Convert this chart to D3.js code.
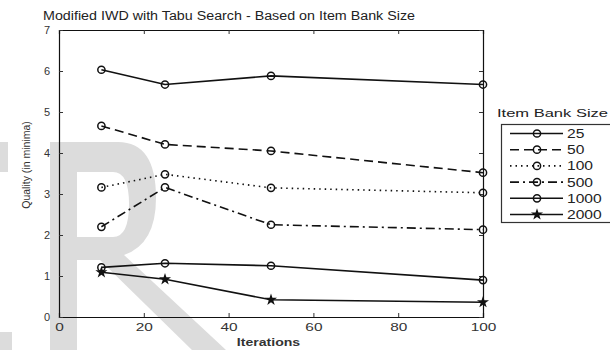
<!DOCTYPE html>
<meta charset="utf-8">
<style>
body { margin: 0; background: #fff; }
svg { font-family: "Liberation Sans", Arial, sans-serif; }
.tick text { fill: #333; font-size: 11px; }
.series { fill: none; stroke: #111; stroke-width: 1.6px; }
</style>
<svg width="610" height="350"></svg>
<script src="https://d3js.org/d3.v7.min.js"></script>
<script>

const iterations = [10, 25, 50, 100];
const bankSizes = ['25', '50', '100', '500', '1000', '2000'];
const q25 = [6.03, 5.67, 5.88, 5.67];
const q50 = [4.66, 4.21, 4.05, 3.52];
const q100 = [3.16, 3.48, 3.15, 3.03];
const q500 = [2.2, 3.16, 2.25, 2.13];
const q1000 = [1.21, 1.31, 1.25, 0.9];
const q2000 = [1.09, 0.92, 0.42, 0.36];
const xTicks = [0, 20, 40, 60, 80, 100];
const yTicks = [0, 1, 2, 3, 4, 5, 6, 7];

const series = [
  { name: bankSizes[0], values: q25, dash: null, marker: 'circle' },
  { name: bankSizes[1], values: q50, dash: '9,5', marker: 'circle' },
  { name: bankSizes[2], values: q100, dash: '1.5,4', marker: 'circle' },
  { name: bankSizes[3], values: q500, dash: '9,4,2,4', marker: 'circle' },
  { name: bankSizes[4], values: q1000, dash: null, marker: 'circle' },
  { name: bankSizes[5], values: q2000, dash: null, marker: 'star' }
];

const svg = d3.select('svg');

// the scanned figure is stretched sideways, so widen the text to match
function stretch(sel, f) {
  sel.each(function () {
    const w = this.getComputedTextLength();
    d3.select(this).attr('textLength', w * f).attr('lengthAdjust', 'spacingAndGlyphs');
  });
}

// watermark behind the chart
const wm = svg.append('g').attr('fill', '#dcdcdc');
wm.append('path')
  .attr('fill-rule', 'evenodd')
  .attr('d', 'M50,142 H118 Q156,142 156,198 Q156,244 124,255 L226,350 H192 L100,260 H77 V350 H50 Z' +
             'M77,172 H113 Q129,172 129,204 Q129,237 113,237 H77 Z');
wm.append('rect').attr('x', 0).attr('y', 142).attr('width', 8).attr('height', 30);
wm.append('rect').attr('x', 0).attr('y', 332).attr('width', 12).attr('height', 18);

const plotL = 59, plotR = 483, plotT = 30, plotB = 317;

const x = d3.scaleLinear().domain([0, 100]).range([plotL, plotR]);
const y = d3.scaleLinear().domain([0, 7]).range([plotB, plotT]);

const xAxis = svg.append('g')
  .attr('transform', `translate(0,${plotB})`)
  .call(d3.axisBottom(x).tickValues(xTicks).tickSize(-4).tickPadding(6));
svg.append('g')
  .attr('transform', `translate(0,${plotT})`)
  .call(d3.axisTop(x).tickValues(xTicks).tickSize(-4).tickFormat(''));
svg.append('g')
  .attr('transform', `translate(${plotL},0)`)
  .call(d3.axisLeft(y).tickValues(yTicks).tickSize(-4).tickPadding(9).tickFormat(d3.format('d')));
svg.append('g')
  .attr('transform', `translate(${plotR},0)`)
  .call(d3.axisRight(y).tickValues(yTicks).tickSize(-4).tickFormat(''));

stretch(xAxis.selectAll('text'), 1.4);

svg.selectAll('.domain').attr('stroke', '#111').attr('stroke-width', 1.2);
svg.selectAll('.tick line').attr('stroke', '#333');

const line = d3.line()
  .x((d, i) => x(iterations[i]))
  .y(d => y(d));

const star = d3.symbol().type(d3.symbolStar).size(45);

function drawMarker(g, type, cx, cy) {
  if (type === 'star') {
    g.append('path')
      .attr('d', star)
      .attr('transform', `translate(${cx},${cy})`)
      .attr('fill', '#111');
  } else {
    g.append('circle')
      .attr('cx', cx).attr('cy', cy).attr('r', 3.6)
      .attr('fill', 'none').attr('stroke', '#111').attr('stroke-width', 1.5);
  }
}

series.forEach(s => {
  const g = svg.append('g');
  g.append('path')
    .attr('class', 'series')
    .attr('d', line(s.values))
    .attr('stroke-dasharray', s.dash);
  s.values.forEach((v, i) => drawMarker(g, s.marker, x(iterations[i]), y(v)));
});

// titles
svg.append('text')
  .attr('x', 43).attr('y', 20)
  .style('font-size', '12.5px').style('fill', '#222')
  .attr('textLength', 372).attr('lengthAdjust', 'spacingAndGlyphs')
  .text('Modified IWD with Tabu Search - Based on Item Bank Size');

svg.append('text')
  .attr('x', 268.5).attr('y', 346)
  .attr('text-anchor', 'middle')
  .style('font-size', '11px').style('font-weight', 'bold').style('fill', '#333')
  .text('Iterations')
  .call(stretch, 1.28);

svg.append('text')
  .attr('transform', 'translate(30,165) rotate(-90)')
  .attr('text-anchor', 'middle')
  .style('font-size', '10.5px').style('fill', '#333')
  .text('Quality (in minima)');

// legend
const legend = svg.append('g');
legend.append('text')
  .attr('x', 497).attr('y', 117)
  .style('font-size', '11.5px').style('fill', '#222')
  .attr('textLength', 111).attr('lengthAdjust', 'spacingAndGlyphs')
  .text('Item Bank Size');
legend.append('rect')
  .attr('x', 501.5).attr('y', 124.5)
  .attr('width', 130).attr('height', 98)
  .attr('fill', '#fff').attr('stroke', '#333').attr('stroke-width', 1.2);

series.forEach((s, i) => {
  const ly = 133.5 + i * 16.2;
  legend.append('line')
    .attr('x1', 510).attr('x2', 563).attr('y1', ly).attr('y2', ly)
    .attr('stroke', '#111').attr('stroke-width', 1.6)
    .attr('stroke-dasharray', s.dash);
  drawMarker(legend, s.marker, 537, ly);
  legend.append('text')
    .attr('x', 567).attr('y', ly + 4.5)
    .style('font-size', '12px').style('fill', '#222')
    .text(s.name)
    .call(stretch, 1.3);
});

</script>
